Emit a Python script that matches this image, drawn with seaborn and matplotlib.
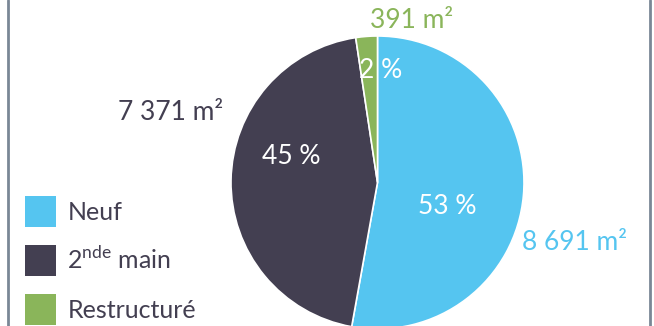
import matplotlib
matplotlib.use("Agg")
import matplotlib.pyplot as plt
import seaborn as sns

categories = ["Neuf", "2nde main", "Restructuré"]
legend_labels = ["Neuf", "2$^{\\mathrm{nde}}$ main", "Restructuré"]
surfaces = [8691, 7371, 391]
surface_labels = ["8 691 m²", "7 371 m²", "391 m²"]
percent_labels = ["53 %", "45 %", "2 %"]
colors = ["#55C5F0", "#433F51", "#8AB55A"]

sns.set_theme(style="white")
plt.rcParams['font.family'] = ['Lato', 'DejaVu Sans']
plt.rcParams['mathtext.fontset'] = 'custom'
plt.rcParams['mathtext.rm'] = 'Lato:regular'

W, H = 654, 326
fig = plt.figure(figsize=(W / 100, H / 100), dpi=100)
ax = fig.add_axes([0, 0, 1, 1])

cx, cy, r = 377.5, H - 182.5, 146.5
wedges, _ = ax.pie(surfaces, colors=sns.color_palette(colors), startangle=90,
                   counterclock=False, center=(cx, cy), radius=r,
                   wedgeprops=dict(edgecolor="white", linewidth=1.2))
ax.set_xlim(0, W)
ax.set_ylim(0, H)
ax.set_aspect("equal")
ax.axis("off")

# border lines
ax.axvline(8, color="#7A8796", lw=2)
ax.axvline(650, color="#7A8796", lw=2)

fs = 19
tw = "normal"
# percentages inside
ax.text(447, H - 207, percent_labels[0], color="white", fontsize=fs, ha="center", va="center", fontweight=tw)
ax.text(291, H - 157, percent_labels[1], color="white", fontsize=fs, ha="center", va="center", fontweight=tw)
ax.text(381, H - 70, percent_labels[2], color="white", fontsize=fs, ha="center", va="center", fontweight=tw)

# surface labels
ax.text(575, H - 243, surface_labels[0], color=colors[0], fontsize=fs, ha="center", va="center", fontweight=tw)
ax.text(171, H - 112, surface_labels[1], color=colors[1], fontsize=fs, ha="center", va="center", fontweight=tw)
ax.text(412, H - 21, surface_labels[2], color=colors[2], fontsize=fs, ha="center", va="center", fontweight=tw)

leg = ax.legend(wedges, legend_labels, loc="upper left", bbox_to_anchor=(25 / W, 1 - 196 / H),
                frameon=False, fontsize=18, handlelength=1.24, handleheight=1.53,
                handletextpad=0.45, labelspacing=0.72, borderaxespad=0, borderpad=0)
for t in leg.get_texts():
    t.set_color(colors[1])
    t.set_fontweight(tw)
for p in leg.get_patches():
    p.set_edgecolor("none")

fig.savefig("out.png", dpi=100)
